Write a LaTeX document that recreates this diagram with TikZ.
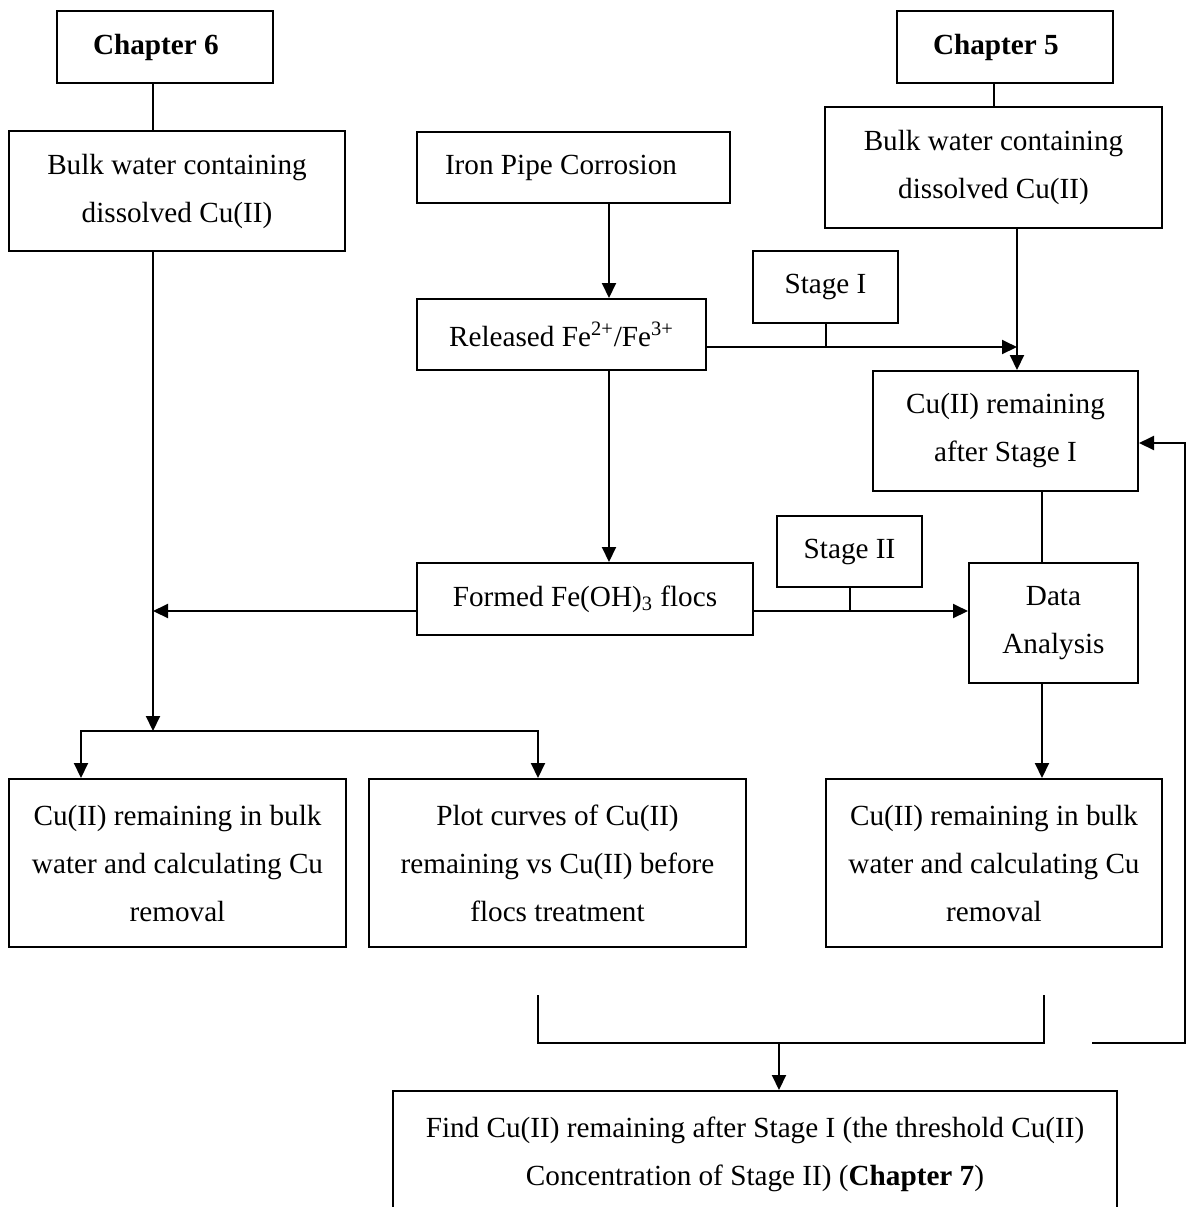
\documentclass[tikz,border=0pt]{standalone}
\usepackage{fontspec}
\setmainfont{Liberation Serif}
\usetikzlibrary{arrows.meta}
\usetikzlibrary{calc}

\tikzset{
  box/.style={draw, line width=1pt, align=center, inner sep=0pt, font=\fontsize{14.6pt}{24pt}\selectfont},
  padbox/.style={box, align=flush left, text width=#1},
  flow/.style={-{Triangle[length=7.5pt,width=7pt]}},
}

\begin{document}
\begin{tikzpicture}[x=0.5pt, y=-0.5pt, line width=1pt]

    \useasboundingbox (0,0) rectangle (1194,1207);

    % left column
    \node[padbox=72pt, inner xsep=18pt, minimum height=36pt] (ch6) at (165,47) {\textbf{Chapter 6}};
    \node[box, minimum width=168pt, minimum height=60pt] (bulkL) at (177,191) {Bulk water containing\\dissolved Cu(II)};

    % middle column
    \node[padbox=128.5pt, inner xsep=14pt, minimum height=35.5pt] (iron) at (573.5,167.5) {Iron Pipe Corrosion};
    \node[box, minimum width=144.5pt, minimum height=35.5pt] (fe) at (561.5,334.5) {Released Fe\textsuperscript{2+}/Fe\textsuperscript{3+}};
    \node[box, minimum width=168pt, minimum height=36pt] (flocs) at (585,599) {Formed Fe(OH)\textsubscript{3} flocs};

    % right column
    \node[padbox=72pt, inner xsep=18pt, minimum height=36pt] (ch5) at (1005,47) {\textbf{Chapter 5}};
    \node[box, minimum width=168.5pt, minimum height=60.5pt] (bulkR) at (993.5,167.5) {Bulk water containing\\dissolved Cu(II)};
    \node[box, minimum width=72.5pt, minimum height=36pt] (stI) at (825.5,287) {Stage I};
    \node[box, minimum width=132.5pt, minimum height=60pt] (remI) at (1005.5,431) {Cu(II) remaining\\after Stage I};
    \node[box, minimum width=72.5pt, minimum height=35.5pt] (stII) at (849.5,551.5) {Stage II};
    \node[box, minimum width=84.5pt, minimum height=60pt] (data) at (1053.5,623) {Data\\Analysis};

    % results
    \node[box, minimum width=168.5pt, minimum height=84pt] (resL) at (177.5,863) {Cu(II) remaining in bulk\\water and calculating Cu\\removal};
    \node[box, minimum width=188.5pt, minimum height=84pt] (plot) at (557.5,863) {Plot curves of Cu(II)\\remaining vs Cu(II) before\\flocs treatment};
    \node[box, minimum width=168pt, minimum height=84pt] (resR) at (994,863) {Cu(II) remaining in bulk\\water and calculating Cu\\removal};
    \node[box, minimum width=362pt, minimum height=84pt] (find) at (755,1175) {Find Cu(II) remaining after Stage I (the threshold Cu(II)\\Concentration of Stage II) (\textbf{Chapter 7})\\\mbox{}};

    \coordinate (split) at (153,731);
    \coordinate (join) at (153,611);
    \coordinate (dropL) at (81,731);
    \coordinate (dropP) at (538,731);
    \coordinate (feCol) at (609,0);
    \coordinate (meetI) at (1017,347);
    \coordinate (dataCol) at (1042,0);
    \coordinate (brL) at (538,995);
    \coordinate (brR) at (1044,995);
    \coordinate (brM) at (779,1043);
    \coordinate (fbS) at (1092,1043);
    \coordinate (back) at (1185,443);

    \draw (ch6.south -| split) -- (bulkL.north -| split);
    \draw[flow] (bulkL.south -| split) -- (split);
    \draw[flow] (flocs.west |- join) -- (join);
    \draw[flow] (split) -| (resL.north -| dropL);
    \draw[flow] (split) -| (plot.north -| dropP);

    \draw[flow] (iron.south -| feCol) -- (fe.north -| feCol);
    \draw[flow] (fe.south -| feCol) -- (flocs.north -| feCol);
    \draw[flow] (fe.east |- meetI) -- (meetI);
    \draw (stI.south) -- (stI.south |- meetI);

    \draw (ch5.south -| bulkR.north) -- (bulkR.north);
    \draw[flow] (bulkR.south -| meetI) -- (remI.north -| meetI);
    \draw (remI.south -| dataCol) -- (data.north -| dataCol);
    \draw[flow] (flocs.east |- join) -- (data.west |- join);
    \draw (stII.south) -- (stII.south |- join);
    \draw[flow] (data.south -| dataCol) -- (resR.north -| dataCol);

    \draw (brL) |- (brM) -| (brR);
    \draw[flow] (brM) -- (find.north -| brM);
    \draw[flow] (fbS) -| (back) -- (remI.east |- back);

\end{tikzpicture}
\end{document}
